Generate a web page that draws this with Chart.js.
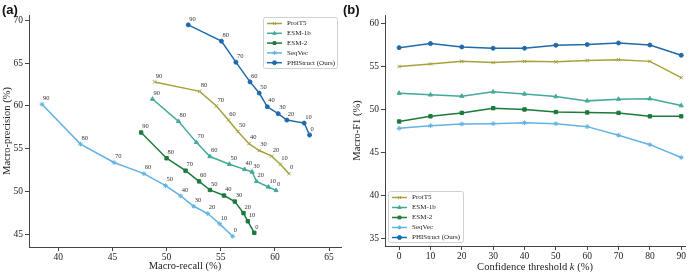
<!DOCTYPE html>
<html lang="en">
<head>
  <meta charset="UTF-8" />
  <title>PHIStruct comparison</title>
  <script src="https://cdn.jsdelivr.net/npm/chart.js"></script>
  <style>
    body { margin: 0; background: #fff; }
    .wrap { position: relative; width: 698px; height: 276px; }
    .panel { position: absolute; top: 0; height: 276px; }
    .tag { position: absolute; top: 2px; font: bold 13px "Liberation Sans", Arial, sans-serif; color: #111; }
  </style>
</head>
<body>
<div class="wrap">
  <div class="panel" style="left:0;width:350px"><canvas id="prChart" width="350" height="276"></canvas></div>
  <div class="panel" style="left:350px;width:348px"><canvas id="f1Chart" width="348" height="276"></canvas></div>
  <div class="tag" style="left:2px">(a)</div>
  <div class="tag" style="left:343px">(b)</div>
</div>

<script>
// ---- data ----
const models = ['ProtT5', 'ESM-1b', 'ESM-2', 'SeqVec', 'PHIStruct (Ours)'];
const colors = ['#a5a23d', '#45a99a', '#1c7a3c', '#62b2e2', '#1f6aab'];
const markers = ['crossRot', 'triangle', 'rect', 'star', 'circle'];

// panel (a): points at confidence thresholds 90 -> 0
const thresholds = [90, 80, 70, 60, 50, 40, 30, 20, 10, 0];
const recallProtT5   = [48.9, 53.05, 54.6, 55.7, 56.6, 57.6, 58.55, 59.7, 60.5, 61.3];
const precProtT5     = [62.8, 61.7, 60.0, 58.35, 57.0, 55.6, 54.8, 54.15, 53.2, 52.1];
const recallESM1b    = [48.7, 51.1, 52.75, 54.0, 55.8, 57.2, 57.9, 58.3, 59.4, 60.1];
const precESM1b      = [60.8, 58.2, 55.75, 54.1, 53.2, 52.6, 52.3, 51.2, 50.55, 50.15];
const recallESM2     = [47.65, 50.0, 51.75, 53.0, 54.0, 55.3, 56.3, 57.1, 57.5, 58.1];
const precESM2       = [56.9, 53.9, 52.45, 51.2, 50.2, 49.55, 48.85, 47.5, 46.55, 45.2];
const recallSeqVec   = [38.5, 42.05, 45.15, 47.9, 49.9, 51.3, 52.5, 53.8, 54.9, 56.1];
const precSeqVec     = [60.2, 55.55, 53.4, 52.1, 50.7, 49.5, 48.3, 47.45, 46.25, 44.8];
const recallPHI      = [52.0, 55.06, 56.4, 57.7, 58.55, 59.3, 60.3, 61.1, 62.7, 63.2];
const precPHI        = [69.45, 67.55, 65.1, 62.8, 61.5, 59.9, 59.1, 58.35, 58.0, 56.6];
const prTicksX = [40, 45, 50, 55, 60, 65];
const prTicksY = [45, 50, 55, 60, 65, 70];

// panel (b): macro-F1 vs confidence threshold k
const kValues = [0, 10, 20, 30, 40, 50, 60, 70, 80, 90];
const f1ProtT5 = [55.0, 55.3, 55.6, 55.47, 55.6, 55.55, 55.7, 55.8, 55.6, 53.7];
const f1ESM1b  = [51.9, 51.7, 51.55, 52.05, 51.8, 51.5, 51.0, 51.2, 51.25, 50.45];
const f1ESM2   = [48.6, 49.2, 49.6, 50.15, 50.0, 49.7, 49.65, 49.6, 49.2, 49.2];
const f1SeqVec = [47.8, 48.1, 48.3, 48.35, 48.45, 48.35, 48.0, 47.0, 45.9, 44.4];
const f1PHI    = [57.2, 57.67, 57.28, 57.13, 57.13, 57.48, 57.56, 57.74, 57.51, 56.31];
const f1TicksX = [0, 10, 20, 30, 40, 50, 60, 70, 80, 90];
const f1TicksY = [35, 40, 45, 50, 55, 60];

const serif = '"Liberation Serif", "Times New Roman", serif';

function toPoints(xs, ys) {
  return xs.map((x, i) => ({ x: x, y: ys[i] }));
}

function makeDatasets(pointSets) {
  return pointSets.map((pts, i) => ({
    label: models[i],
    data: pts,
    showLine: true,
    borderColor: colors[i],
    backgroundColor: colors[i],
    borderWidth: 1.5,
    pointStyle: markers[i],
    pointRadius: markers[i] === 'circle' ? 2 : 2.4,
    pointBorderWidth: 1,
    tension: 0
  }));
}

function axis(min, max, tickVals, title, isX) {
  return {
    type: 'linear',
    min: min,
    max: max,
    afterBuildTicks: a => { a.ticks = tickVals.map(v => ({ value: v })); },
    grid: { drawOnChartArea: false, drawTicks: true, tickLength: 4, color: '#444' },
    border: { display: true, color: '#444', width: 1 },
    ticks: { color: '#222', font: { family: serif, size: 9.5 }, padding: isX ? 1 : 2 },
    title: {
      display: title !== null, text: title || '', color: '#222',
      font: { family: serif, size: 10.5 },
      padding: isX ? { top: 0, bottom: 3 } : { top: 1, bottom: 0 }
    }
  };
}

// small threshold numbers next to every point of panel (a)
const pointLabels = {
  id: 'pointLabels',
  afterDatasetsDraw(chart) {
    const ctx = chart.ctx;
    ctx.save();
    ctx.font = '6.5px ' + serif;
    ctx.fillStyle = '#333';
    ctx.textAlign = 'left';
    ctx.textBaseline = 'middle';
    chart.data.datasets.forEach((ds, i) => {
      chart.getDatasetMeta(i).data.forEach((el, j) => {
        ctx.fillText(String(thresholds[j]), el.x + 1, el.y - 6);
      });
    });
    ctx.restore();
  }
};

// x title of panel (b) with an italic k
const kTitle = {
  id: 'kTitle',
  afterDraw(chart) {
    const ctx = chart.ctx;
    const parts = [['Confidence threshold ', ''], ['k', 'italic '], [' (%)', '']];
    ctx.save();
    ctx.fillStyle = '#222';
    ctx.textBaseline = 'middle';
    let total = 0;
    parts.forEach(p => { ctx.font = p[1] + '10.5px ' + serif; total += ctx.measureText(p[0]).width; });
    let x = (chart.chartArea.left + chart.chartArea.right) / 2 - total / 2;
    parts.forEach(p => {
      ctx.font = p[1] + '10.5px ' + serif;
      ctx.fillText(p[0], x, 267);
      x += ctx.measureText(p[0]).width;
    });
    ctx.restore();
  }
};

// matplotlib-like legend box drawn inside the plot area
const boxLegend = {
  id: 'boxLegend',
  afterDraw(chart, args, opts) {
    const ctx = chart.ctx;
    const { x, y, w, h, row } = opts;
    ctx.save();
    ctx.fillStyle = 'rgba(255,255,255,0.9)';
    ctx.strokeStyle = '#d0d0d0';
    ctx.lineWidth = 1;
    ctx.beginPath();
    ctx.roundRect(x + 0.5, y + 0.5, w, h, 2);
    ctx.fill();
    ctx.stroke();
    ctx.font = '7px ' + serif;
    ctx.textBaseline = 'middle';
    chart.data.datasets.forEach((ds, i) => {
      const cy = y + 6.5 + i * row;
      ctx.strokeStyle = ds.borderColor;
      ctx.fillStyle = ds.borderColor;
      ctx.lineWidth = 1.5;
      ctx.beginPath();
      ctx.moveTo(x + 4, cy);
      ctx.lineTo(x + 19, cy);
      ctx.stroke();
      ctx.lineWidth = 1;
      Chart.helpers.drawPoint(ctx, { pointStyle: ds.pointStyle, radius: 2, rotation: 0, borderWidth: 1 }, x + 11.5, cy);
      ctx.fillStyle = '#222';
      ctx.fillText(ds.label, x + 24, cy);
    });
    ctx.restore();
  }
};

Chart.defaults.animation = false;

new Chart(document.getElementById('prChart'), {
  type: 'scatter',
  data: {
    datasets: makeDatasets([
      toPoints(recallProtT5, precProtT5),
      toPoints(recallESM1b, precESM1b),
      toPoints(recallESM2, precESM2),
      toPoints(recallSeqVec, precSeqVec),
      toPoints(recallPHI, precPHI)
    ])
  },
  options: {
    responsive: false,
    layout: { padding: { top: 15, right: 9, left: 0, bottom: 0 } },
    plugins: {
      legend: { display: false },
      tooltip: { enabled: false },
      boxLegend: { x: 263, y: 17, w: 74, h: 51, row: 9.8 }
    },
    scales: {
      x: Object.assign(axis(37.3, 66.1, prTicksX, 'Macro-recall (%)', true), { afterFit: s => { s.height = 29; } }),
      y: Object.assign(axis(43.55, 70.6, prTicksY, 'Macro-precision (%)', false), { afterFit: s => { s.width = 29; } })
    }
  },
  plugins: [pointLabels, boxLegend]
});

new Chart(document.getElementById('f1Chart'), {
  type: 'scatter',
  data: {
    datasets: makeDatasets([
      toPoints(kValues, f1ProtT5),
      toPoints(kValues, f1ESM1b),
      toPoints(kValues, f1ESM2),
      toPoints(kValues, f1SeqVec),
      toPoints(kValues, f1PHI)
    ])
  },
  options: {
    responsive: false,
    layout: { padding: { top: 15, right: 13, left: 0, bottom: 0 } },
    plugins: {
      legend: { display: false },
      tooltip: { enabled: false },
      boxLegend: { x: 38, y: 191, w: 75, h: 51, row: 10 }
    },
    scales: {
      x: Object.assign(axis(-4.5, 91.2, f1TicksX, null, true), { afterFit: s => { s.height = 30; } }),
      y: Object.assign(axis(34.1, 61, f1TicksY, 'Macro-F1 (%)', false), { afterFit: s => { s.width = 35; } })
    }
  },
  plugins: [boxLegend, kTitle]
});
</script>
</body>
</html>
